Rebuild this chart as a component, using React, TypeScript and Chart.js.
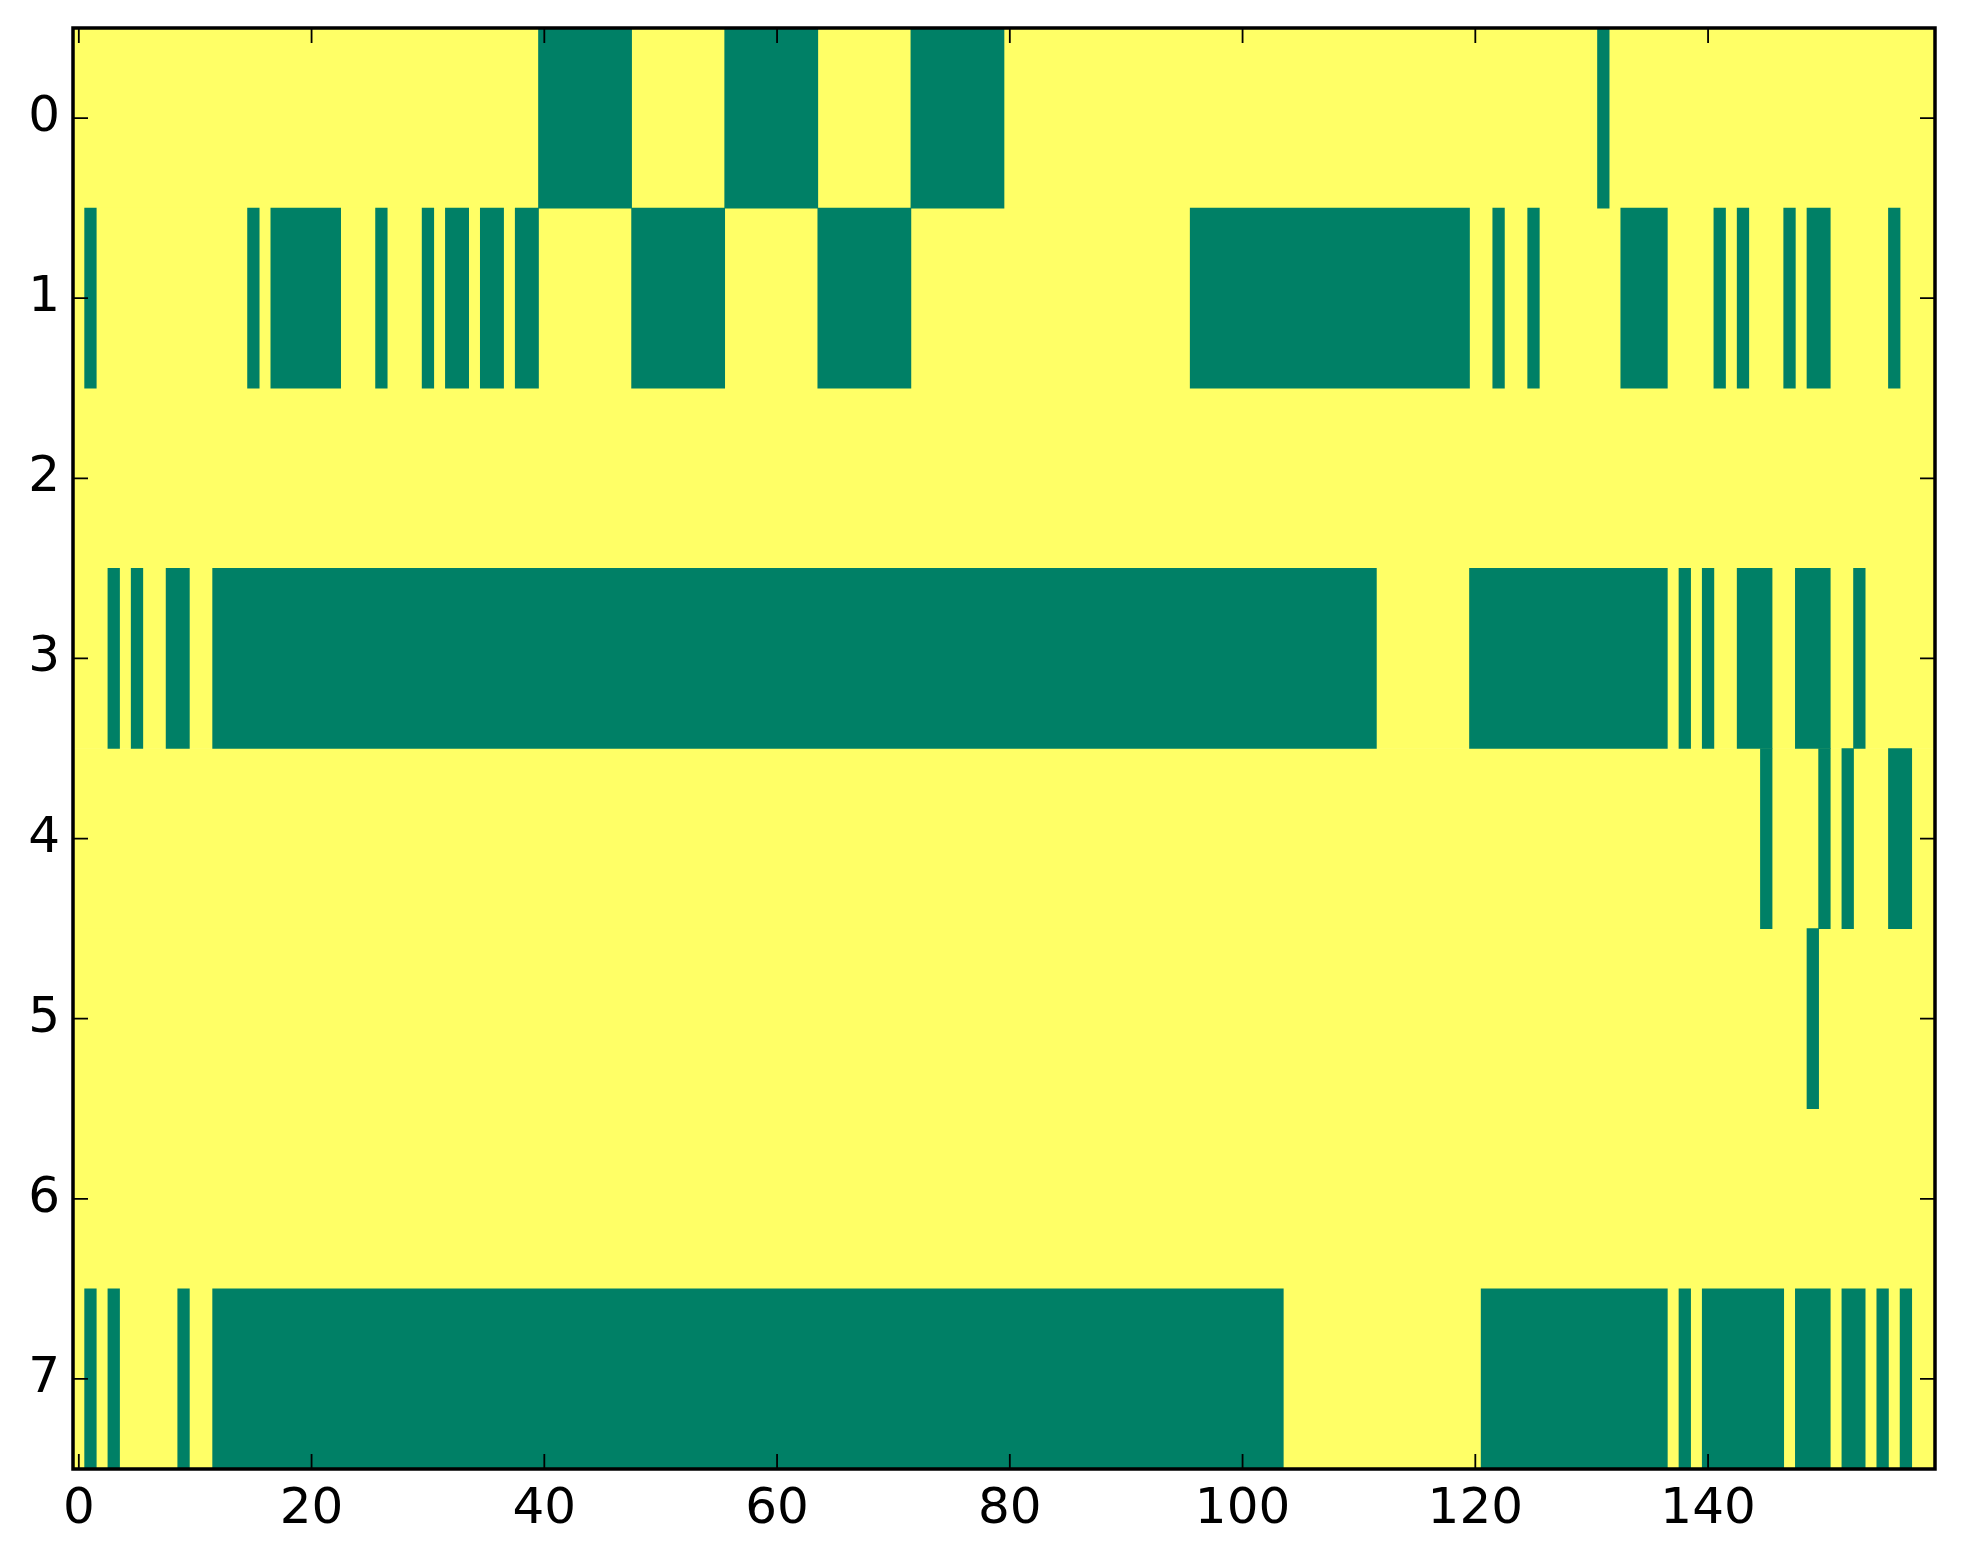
import React, { useEffect, useRef } from 'react';
import { Chart, registerables } from 'chart.js';

Chart.register(...registerables);

// ---- data ----
const rowLabels = ['0', '1', '2', '3', '4', '5', '6', '7'];
const columnCount = 160;
const xTickValues = [0, 20, 40, 60, 80, 100, 120, 140];

// runs of "1" cells per row, [firstColumn, lastColumn] inclusive
const row0Runs = [[40, 47], [56, 63], [72, 79], [131, 131]];
const row1Runs = [
  [1, 1], [15, 15], [17, 22], [26, 26], [30, 30], [32, 33], [35, 36], [38, 39],
  [48, 55], [64, 71], [96, 119], [122, 122], [125, 125], [133, 136], [141, 141],
  [143, 143], [147, 147], [149, 150], [156, 156],
];
const row2Runs: number[][] = [];
const row3Runs = [
  [3, 3], [5, 5], [8, 9], [12, 111], [120, 136], [138, 138], [140, 140],
  [143, 145], [148, 150], [153, 153],
];
const row4Runs = [[145, 145], [150, 150], [152, 152], [156, 157]];
const row5Runs = [[149, 149]];
const row6Runs: number[][] = [];
const row7Runs = [
  [1, 1], [3, 3], [9, 9], [12, 103], [121, 136], [138, 138], [140, 146],
  [148, 150], [152, 153], [155, 155], [157, 157],
];
const greenRunsByRow = [row0Runs, row1Runs, row2Runs, row3Runs, row4Runs, row5Runs, row6Runs, row7Runs];

const LOW_COLOR = '#ffff66';
const HIGH_COLOR = '#008066';
const FONT = 'DejaVu Sans';

const framePlugin = {
  id: 'frameTicks',
  afterDraw(chart: any) {
    const { ctx, chartArea } = chart;
    const { left, right, top, bottom } = chartArea;
    const xs = chart.scales.x;
    const ys = chart.scales.y;
    const tl = 15;
    ctx.save();
    ctx.strokeStyle = '#000';
    ctx.lineWidth = 1.8;
    ctx.beginPath();
    xs.ticks.forEach((t: any) => {
      const px = xs.getPixelForValue(t.value);
      ctx.moveTo(px, bottom);
      ctx.lineTo(px, bottom - tl);
      ctx.moveTo(px, top);
      ctx.lineTo(px, top + tl);
    });
    ys.ticks.forEach((_t: any, i: number) => {
      const py = ys.getPixelForTick(i);
      ctx.moveTo(left, py);
      ctx.lineTo(left + tl, py);
      ctx.moveTo(right, py);
      ctx.lineTo(right - tl, py);
    });
    ctx.stroke();
    ctx.lineWidth = 3.5;
    ctx.strokeRect(left, top, right - left, bottom - top);
    ctx.restore();
  },
};

export default function App() {
  const canvasRef = useRef<HTMLCanvasElement | null>(null);

  useEffect(() => {
    if (!canvasRef.current) return;
    const maxRuns = Math.max(...greenRunsByRow.map((r) => r.length));
    const datasets: any[] = [];
    for (let k = 0; k < maxRuns; k++) {
      datasets.push({
        data: greenRunsByRow.map((runs) => (runs[k] ? [runs[k][0] - 0.5, runs[k][1] + 0.5] : null)),
        backgroundColor: HIGH_COLOR,
        borderWidth: 0,
        grouped: false,
        order: 0,
        barPercentage: 1,
        categoryPercentage: 1,
      });
    }
    datasets.push({
      data: rowLabels.map(() => [-0.5, columnCount - 0.5]),
      backgroundColor: LOW_COLOR,
      borderWidth: 0,
      grouped: false,
      order: 1,
      barPercentage: 1,
      categoryPercentage: 1,
    });

    const chart = new Chart(canvasRef.current, {
      type: 'bar',
      data: { labels: rowLabels, datasets },
      options: {
        indexAxis: 'y',
        animation: false,
        responsive: false,
        devicePixelRatio: 1,
        layout: { padding: { top: 28, right: 28, left: 0, bottom: 0 }, autoPadding: false },
        plugins: { legend: { display: false }, tooltip: { enabled: false } },
        scales: {
          x: {
            type: 'linear',
            min: -0.5,
            max: columnCount - 0.5,
            afterBuildTicks: (s: any) => {
              s.ticks = xTickValues.map((v) => ({ value: v }));
            },
            afterFit: (s: any) => {
              s.height = 95;
              s.paddingLeft = 0;
              s.paddingRight = 0;
            },
            ticks: {
              font: { family: FONT, size: 50 },
              color: '#000',
              padding: 11,
              maxRotation: 0,
              autoSkip: false,
            },
            grid: { display: false, drawTicks: false },
            border: { display: false },
          },
          y: {
            type: 'category',
            offset: true,
            afterFit: (s: any) => {
              s.width = 73;
              s.paddingTop = 0;
              s.paddingBottom = 0;
            },
            ticks: {
              font: { family: FONT, size: 50 },
              color: '#000',
              padding: 13,
              autoSkip: false,
            },
            grid: { display: false, drawTicks: false, offset: true },
            border: { display: false },
          },
        },
      } as any,
      plugins: [framePlugin],
    });
    return () => chart.destroy();
  }, []);

  return (
    <div style={{ position: 'absolute', left: 0, top: 0, width: 1963, height: 1564, background: '#fff' }}>
      <canvas ref={canvasRef} width={1963} height={1564} style={{ display: 'block' }} />
    </div>
  );
}
